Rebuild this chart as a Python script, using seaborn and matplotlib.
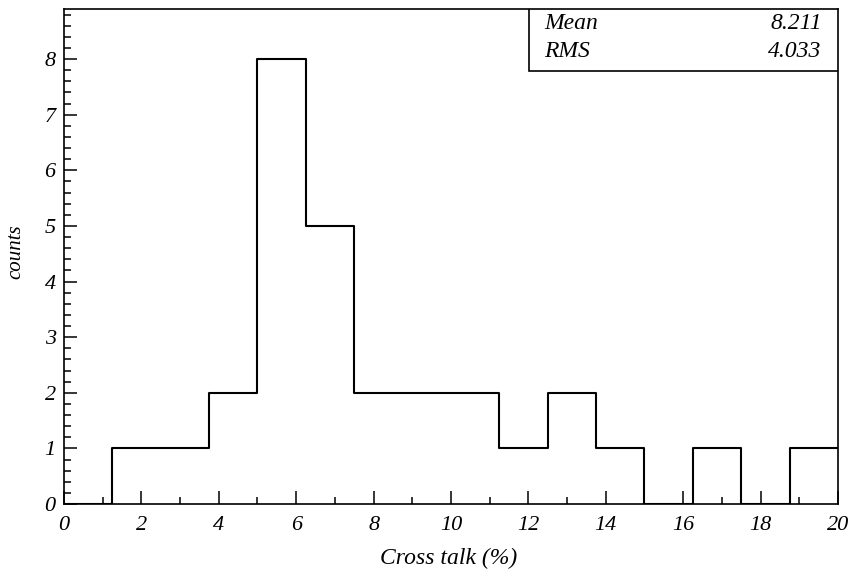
import numpy as np
import pandas as pd
import matplotlib
matplotlib.use("Agg")
import matplotlib.pyplot as plt
import seaborn as sns
from matplotlib.ticker import MultipleLocator
from matplotlib.patches import Rectangle

# Data
bin_edges = [0, 1.25, 2.5, 3.75, 5, 6.25, 7.5, 8.75, 10, 11.25, 12.5, 13.75, 15, 16.25, 17.5, 18.75, 20]
counts = [0, 1, 1, 2, 8, 5, 2, 2, 2, 1, 2, 1, 0, 1, 0, 1]
stat_names = ["Mean", "RMS"]
stat_values = ["8.211", "4.033"]
x_label = "Cross talk (%)"
y_label = "counts"

sns.set_theme(style="white")
plt.rcParams['font.family'] = ['Liberation Serif', 'DejaVu Serif']
plt.rcParams['text.color'] = 'black'
plt.rcParams['axes.labelcolor'] = 'black'
plt.rcParams['xtick.color'] = 'black'
plt.rcParams['ytick.color'] = 'black'

edges = np.array(bin_edges)
centers = (edges[:-1] + edges[1:]) / 2
df = pd.DataFrame({"x": centers, "w": counts})

fig = plt.figure(figsize=(8.53, 5.74), dpi=100)
ax = fig.add_axes([64/853, 1 - 504/574, (838-64)/853, (504-9)/574])

sns.histplot(data=df, x="x", weights="w", bins=list(bin_edges), element="step", fill=False,
             color="black", linewidth=1.5, ax=ax)

ax.set_xlim(0, 20)
ax.set_ylim(0, 8.9)
ax.xaxis.set_major_locator(MultipleLocator(2))
ax.xaxis.set_minor_locator(MultipleLocator(1))
ax.yaxis.set_major_locator(MultipleLocator(1))
ax.yaxis.set_minor_locator(MultipleLocator(0.2))
ax.tick_params(axis='both', which='major', direction='in', length=9.5, width=1.1,
               labelsize=16, colors='black', bottom=True, left=True, top=False, right=False)
ax.tick_params(axis='both', which='minor', direction='in', length=5, width=1.1,
               colors='black', bottom=True, left=True, top=False, right=False)
ax.tick_params(axis='x', which='major', pad=9)
ax.tick_params(axis='y', which='major', pad=6)
for lab in ax.get_xticklabels() + ax.get_yticklabels():
    lab.set_fontstyle('italic')

for s in ax.spines.values():
    s.set_color('black')
    s.set_linewidth(1.2)

ax.set_xlabel(x_label, fontsize=17, fontstyle='italic', color='black')
ax.set_ylabel(y_label, fontsize=15, fontstyle='italic', color='black')
ax.xaxis.set_label_coords((449-64)/774, -(558-504)/495)
ax.yaxis.set_label_coords(-(64-16)/774, (504-252)/495)
ax.xaxis.label.set_va('center')
ax.yaxis.label.set_va('center')

# Stats box
bx0 = (529-64)/(838-64)
by0 = 1 - (71-9)/(504-9)
ax.add_patch(Rectangle((bx0, by0), 1 - bx0, 1 - by0, transform=ax.transAxes,
                       facecolor='white', edgecolor='black', linewidth=1.2, zorder=5))
for name, val, yy in zip(stat_names, stat_values, [0.970, 0.915]):
    ax.text(bx0 + 0.020, yy, name, transform=ax.transAxes, fontsize=17,
            fontstyle='italic', ha='left', va='center', zorder=6, color='black')
    ax.text(0.979, yy, val, transform=ax.transAxes, fontsize=17,
            fontstyle='italic', ha='right', va='center', zorder=6, color='black')

fig.savefig("out.png", dpi=100)
